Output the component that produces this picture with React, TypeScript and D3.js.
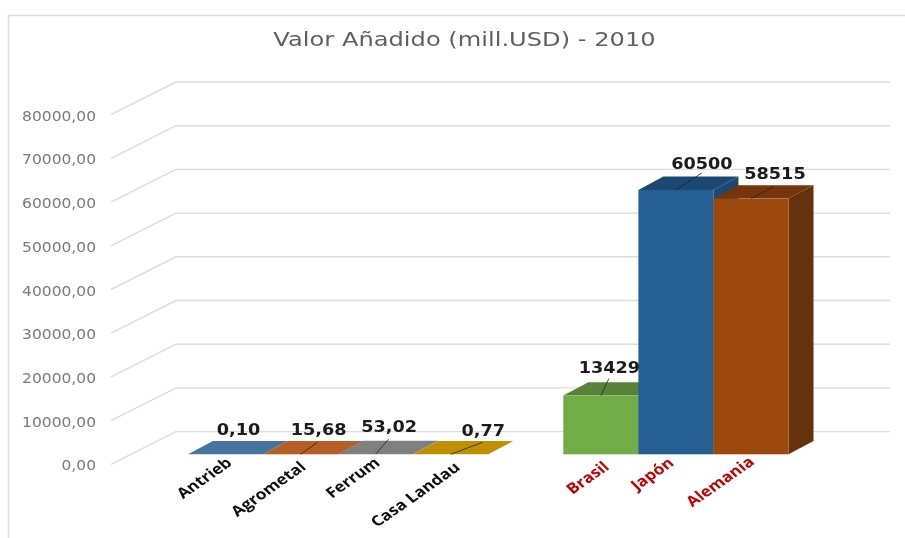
import React from "react";
import * as d3 from "d3";

const title = "Valor Añadido (mill.USD) - 2010";
const groupACategories = ["Antrieb", "Agrometal", "Ferrum", "Casa Landau"];
const groupAValues = [0.1, 15.68, 53.02, 0.77];
const groupALabels = ["0,10", "15,68", "53,02", "0,77"];
const gapCategory = [""];
const groupBCategories = ["Brasil", "Japón", "Alemania"];
const groupBValues = [13429, 60500, 58515];
const groupBLabels = ["13429", "60500", "58515"];
const yTicks = [0, 10000, 20000, 30000, 40000, 50000, 60000, 70000, 80000];

const W = 905, H = 538;
const depthX = 25, depthY = 13.3;
const y = d3.scaleLinear().domain([0, 80000]).range([454.3, 454.3 - 349.6]);
const x = d3.scaleBand<string>().domain([...groupACategories, ...gapCategory, ...groupBCategories]).range([188, 788.5]);

const fmt = (v: number) => d3.format(".2f")(v).replace(".", ",");
const gridFrontX = 111, gridBackX = 176, gridEndX = 890;
const gridFrontOff = 10, gridBackOff = -22.7;

type Style = { front: string; top: string; side: string };
const styleA: Style[] = [
  { front: "#44749f", top: "#44749f", side: "#44749f" },
  { front: "#b55e28", top: "#b55e28", side: "#b55e28" },
  { front: "#7f7f7f", top: "#7f7f7f", side: "#7f7f7f" },
  { front: "#bf9000", top: "#bf9000", side: "#bf9000" },
];
const styleB: Style[] = [
  { front: "#70ad47", top: "#588235", side: "#4f7530" },
  { front: "#255e91", top: "#1c4a73", side: "#1c4a73" },
  { front: "#9c4a0f", top: "#773508", side: "#663008" },
];

// label anchors relative to the bar's front-top centre: [label dx, label dy, leader end dx, leader end dy]
const aLabelOffsets = [[13, -24.3, 0, 0], [18, -24.3, 17, -12], [13.5, -27.3, 13, -15], [32.5, -23.6, 32, -12]];
const bLabelOffsets = [[8.5, -28, 8, -17], [26, -26, 26, -17], [24, -25, 23, -12]];
// category label anchors relative to the bar's front-bottom centre
const aCatOffsets = [[7.5, 10], [6.5, 14], [5.5, 10], [10.5, 14.7]];
const bCatOffsets = [[9.5, 14], [-1, 10], [4.5, 9]];
const catFont = "'Open Sans', sans-serif";
const dejavu = "'DejaVu Sans', sans-serif";

function Bar({ left, w, v, s }: { left: number; w: number; v: number; s: Style }) {
  const y0 = y(0), y1 = Math.min(y(v), y0);
  const pts = (p: number[][]) => p.map((q) => q.join(",")).join(" ");
  return (
    <g>
      <polygon points={pts([[left + w, y0], [left + w + depthX, y0 - depthY], [left + w + depthX, y1 - depthY], [left + w, y1]])} fill={s.side} />
      <polygon points={pts([[left, y1], [left + depthX, y1 - depthY], [left + w + depthX, y1 - depthY], [left + w, y1]])} fill={s.top} />
      <rect x={left} y={y1} width={w} height={y0 - y1} fill={s.front} />
    </g>
  );
}

function ValueLabel({ cx, top, text, o }: { cx: number; top: number; text: string; o: number[] }) {
  return (
    <g>
      {(o[2] !== 0 || o[3] !== 0) && (
        <line x1={cx} y1={top} x2={cx + o[2]} y2={top + o[3]} stroke="#222" strokeWidth={0.8} />
      )}
      <text
        transform={`translate(${cx + o[0]},${top + o[1] + 5.5}) scale(1.14,1)`}
        textAnchor="middle" fontFamily={dejavu} fontSize={15.5} fontWeight={600} fill="#1a1a1a"
      >
        {text}
      </text>
    </g>
  );
}

function CatLabel({ px, py, text, color }: { px: number; py: number; text: string; color: string }) {
  return (
    <text transform={`translate(${px},${py}) scale(1.2,1) rotate(-40)`} textAnchor="end" fontFamily={catFont} fontSize={14.5} fontWeight={700} fill={color}>
      {text}
    </text>
  );
}

export default function App() {
  const w = x.bandwidth();
  return (
    <svg width={W} height={H} style={{ position: "absolute", left: 0, top: 0, background: "#fff" }}>
      <defs>
        <filter id="soft" x="-5%" y="-5%" width="110%" height="110%">
          <feGaussianBlur stdDeviation="0.4" />
        </filter>
      </defs>
      <g filter="url(#soft)">
        <path d={`M8.5,${H} V15.5 H${W}`} fill="none" stroke="#dedede" strokeWidth={1.6} />
        <text transform="translate(464.5,46) scale(1.22,1)" textAnchor="middle" fontFamily={dejavu} fontSize={19.8} fill="#606060">{title}</text>
        {yTicks.map((t) => (
          <g key={t}>
            <polyline
              points={`${gridFrontX},${y(t) + gridFrontOff} ${gridBackX},${y(t) + gridBackOff} ${gridEndX},${y(t) + gridBackOff}`}
              fill="none" stroke="#dcdcdc" strokeWidth={1.4}
            />
            <text transform={`translate(96,${y(t) + 16}) scale(1.07,1)`} textAnchor="end" fontFamily={dejavu} fontSize={14.5} fill="#7a7a7a">{fmt(t)}</text>
          </g>
        ))}
        {groupACategories.map((c, i) => (
          <Bar key={c} left={x(c)!} w={w} v={groupAValues[i]} s={styleA[i]} />
        ))}
        {groupBCategories.map((c, i) => (
          <Bar key={c} left={x(c)!} w={w} v={groupBValues[i]} s={styleB[i]} />
        ))}
        {groupACategories.map((c, i) => (
          <ValueLabel key={c} cx={x(c)! + w / 2} top={y(groupAValues[i])} text={groupALabels[i]} o={aLabelOffsets[i]} />
        ))}
        {groupBCategories.map((c, i) => (
          <ValueLabel key={c} cx={x(c)! + w / 2} top={y(groupBValues[i])} text={groupBLabels[i]} o={bLabelOffsets[i]} />
        ))}
        {groupACategories.map((c, i) => (
          <CatLabel key={c} px={x(c)! + w / 2 + aCatOffsets[i][0]} py={y(0) + aCatOffsets[i][1]} text={c} color="#111" />
        ))}
        {groupBCategories.map((c, i) => (
          <CatLabel key={c} px={x(c)! + w / 2 + bCatOffsets[i][0]} py={y(0) + bCatOffsets[i][1]} text={c} color="#c00000" />
        ))}
      </g>
    </svg>
  );
}
